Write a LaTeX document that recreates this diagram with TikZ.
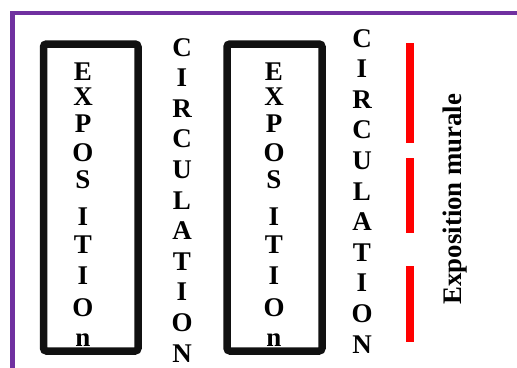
\documentclass[tikz,border=0pt]{standalone}
\usepackage{fontspec}
\setmainfont{Liberation Serif}
\definecolor{wallpurple}{HTML}{7030A0}
\definecolor{boxblack}{HTML}{111111}
\definecolor{muralred}{HTML}{FF0000}
\begin{document}
\begin{tikzpicture}[x=1pt,y=-1pt,
  letter/.style={font=\fontsize{27}{30}\selectfont\bfseries, inner sep=0pt, anchor=base},
  wall/.style={draw=wallpurple, line width=4.5pt},
  standbox/.style={draw=boxblack, line width=7.5pt, rounded corners=3pt},
  muralbar/.style={draw=muralred, line width=8pt}]
\useasboundingbox (0,0) rectangle (517,367);
\fill[white] (0,0) rectangle (517,367);
% purple wall corner
\draw[wall] (12.5,372) -- (12.5,13) -- (522,13);
% exhibition stands
\draw[standbox] (43.5,44) rectangle (138,351);
\draw[standbox] (227,44) rectangle (322,351);
% vertical texts
\foreach \y/\l [count=\i] in {80/E,105/X,132/P,161/O,188/S,225/I,253/T,284/I,316/O,346/n}{
  \node[letter] (ea\i) at (83,\y) {\l};
  \node[letter] (eb\i) at (274,\y) {\l};
}
\foreach \l [count=\i from 0] in {C,I,R,C,U,L,A,T,I,O,N}{
  \node[letter] (ca\i) at (182,{56+30.6*\i}) {\l};
  \node[letter] (cb\i) at (362,{47+30.6*\i}) {\l};
}
% wall display bars
\draw[muralbar] (409.5,43) -- (409.5,143);
\draw[muralbar] (409.5,158) -- (409.5,233);
\draw[muralbar] (409.5,266) -- (409.5,342);
\node[letter, font=\fontsize{26.8}{30}\selectfont\bfseries, rotate=90] (mural) at (461,199) {Exposition murale};
\end{tikzpicture}
\end{document}
